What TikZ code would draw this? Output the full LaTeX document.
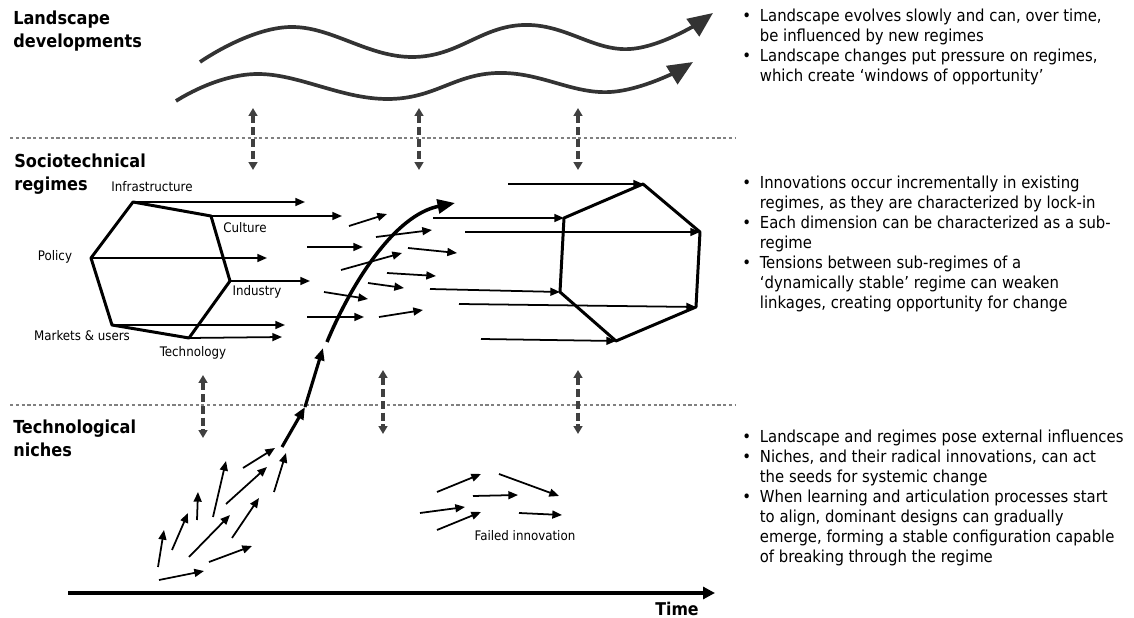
\documentclass[tikz,border=0pt]{standalone}
\usepackage{fontspec}
\setmainfont{DejaVu Sans Condensed}
\usetikzlibrary{arrows.meta}

\begin{document}
\begin{tikzpicture}[x = 0.02cm, y = -0.02cm,
    head/.style  = {font = \bfseries\fontsize{10.2}{13}\selectfont, anchor = west, align = left, inner sep = 0pt},
    dim/.style   = {font = \fontsize{7.5}{9}\selectfont, inner sep = 1pt},
    note/.style  = {font = \fontsize{9.4}{11.4}\selectfont, anchor = north west, inner sep = 0pt},
    level/.style = {draw = black!50, line width = 1.5pt, dash pattern = on 1.8pt off 1.5pt},
    wave/.style  = {draw = black!80, line width = 2.1pt, -{Triangle[length = 0.5cm, width = 0.42cm]}},
    link/.style  = {draw = black!75, line width = 1.8pt, dash pattern = on 4.5pt off 2.2pt,
                    {Triangle[length = 4.5pt, width = 5pt]}-{Triangle[length = 4.5pt, width = 5pt]}},
    side/.style  = {line width = 1.7pt, line join = round},
    push/.style  = {line width = 1pt, -{Triangle[length = 5.5pt, width = 4.5pt]}}]
  \useasboundingbox (0,0) rectangle (1134,618);

  % levels
  \draw [level] (10,138) -- (735,138);
  \draw [level] (10,405) -- (735,405);
  \node [head] (land)  at (13,31)  {Landscape\\developments};
  \node [head] (socio) at (14,174) {Sociotechnical\\regimes};
  \node [head] (niche) at (13,438) {Technological\\niches};

  % landscape
  \draw [wave] plot [smooth, tension = 0.7] coordinates {(200,62) (290,27) (413,57) (523,25) (630,49) (713,13)};
  \draw [wave] plot [smooth, tension = 0.7] coordinates {(176,101) (257,74) (388,99) (497,73) (610,92) (693,62)};
  \foreach \x in {253,419,578}
    \draw [link] (\x,108) -- (\x,170);
  \draw [link] (203,375) -- (203,438);
  \foreach \x in {383,578}
    \draw [link] (\x,370) -- (\x,434);

  % regime before
  \coordinate (inf) at (133,202);
  \coordinate (cul) at (211,216);
  \coordinate (ind) at (230,281);
  \coordinate (tec) at (189,338);
  \coordinate (mkt) at (112,325);
  \coordinate (pol) at (91,258);
  \draw [side] (inf) -- (cul) -- (ind) -- (tec) -- (mkt) -- (pol) -- cycle;
  \node [dim] (l-inf) at (152,187) {Infrastructure};
  \node [dim] (l-cul) at (245,228) {Culture};
  \node [dim] (l-pol) at (55,257)  {Policy};
  \node [dim] (l-ind) at (257,292) {Industry};
  \node [dim] (l-mkt) at (82,336)  {Markets \& users};
  \node [dim] (l-tec) at (193,353) {Technology};
  \draw [push] (inf) -- (305,202);
  \draw [push] (cul) -- (342,216);
  \draw [push] (pol) -- (267,258);
  \draw [push] (ind) -- (310,281);
  \draw [push] (mkt) -- (285,325);
  \draw [push] (tec) -- (282,337);

  % turbulence
  \foreach \a/\b/\c/\d in {349/226/387/214, 307/247/363/247, 376/237/432/230, 408/248/457/253,
                           341/270/402/253, 387/273/436/276, 368/283/404/288, 324/292/368/299,
                           307/317/364/317, 379/317/423/310}
    \draw [push] (\a,\b) -- (\c,\d);

  % regime after
  \coordinate (r1) at (643,184);
  \coordinate (r2) at (700,232);
  \coordinate (r3) at (696,307);
  \coordinate (r4) at (616,341);
  \coordinate (r5) at (560,292);
  \coordinate (r6) at (564,218);
  \draw [side] (r1) -- (r2) -- (r3) -- (r4) -- (r5) -- (r6) -- cycle;
  \draw [push] (508,184) -- (r1);
  \draw [push] (433,218) -- (r6);
  \draw [push] (465,232) -- (r2);
  \draw [push] (430,289) -- (r5);
  \draw [push] (459,304) -- (r3);
  \draw [push] (481,339) -- (r4);

  % niches
  \foreach \a/\b/\c/\d in {158/567/164/530, 172/550/188/513, 197/520/198/492, 213/517/226/461,
                           189/557/230/515, 226/504/267/467, 243/468/275/448, 232/538/259/498,
                           274/492/286/453, 209/562/252/546, 159/580/204/571}
    \draw [push] (\a,\b) -- (\c,\d);
  \draw [line width = 1.8pt, -{Triangle[length = 7pt, width = 5.5pt]}] (282,447) -- (305,407);
  \draw [line width = 1.8pt, -{Triangle[length = 7pt, width = 5.5pt]}] (305,407) -- (323,348);
  \draw [line width = 2pt, -{Triangle[length = 0.35cm, width = 0.28cm]}]
    (327,342) .. controls (352,282) and (395,215) .. (455,203);

  \foreach \a/\b/\c/\d in {437/492/481/474, 499/474/559/496, 473/496/518/495,
                           420/513/465/507, 437/530/481/512, 519/513/562/515}
    \draw [push] (\a,\b) -- (\c,\d);
  \node [dim] (fail) at (525,536) {Failed innovation};

  % time
  \draw [line width = 2.3pt, -{Triangle[length = 0.24cm, width = 0.24cm]}] (68,593) -- (715,593);
  \node [font = \bfseries\fontsize{10}{12}\selectfont, inner sep = 0pt] (time) at (677,609) {Time};

  % notes
  \node [note] (n-land) at (742,7) {\begin{tabular}{@{}l@{\hspace{5pt}}l@{}}
    \textbullet & Landscape evolves slowly and can, over time,\\
                & be influenced by new regimes\\
    \textbullet & Landscape changes put pressure on regimes,\\
                & which create `windows of opportunity'
  \end{tabular}};
  \node [note] (n-socio) at (742,174) {\begin{tabular}{@{}l@{\hspace{5pt}}l@{}}
    \textbullet & Innovations occur incrementally in existing\\
                & regimes, as they are characterized by lock-in\\
    \textbullet & Each dimension can be characterized as a sub-\\
                & regime\\
    \textbullet & Tensions between sub-regimes of a\\
                & `dynamically stable' regime can weaken\\
                & linkages, creating opportunity for change
  \end{tabular}};
  \node [note] (n-niche) at (742,428) {\begin{tabular}{@{}l@{\hspace{5pt}}l@{}}
    \textbullet & Landscape and regimes pose external influences\\
    \textbullet & Niches, and their radical innovations, can act\\
                & the seeds for systemic change\\
    \textbullet & When learning and articulation processes start\\
                & to align, dominant designs can gradually\\
                & emerge, forming a stable configuration capable\\
                & of breaking through the regime
  \end{tabular}};
\end{tikzpicture}
\end{document}
